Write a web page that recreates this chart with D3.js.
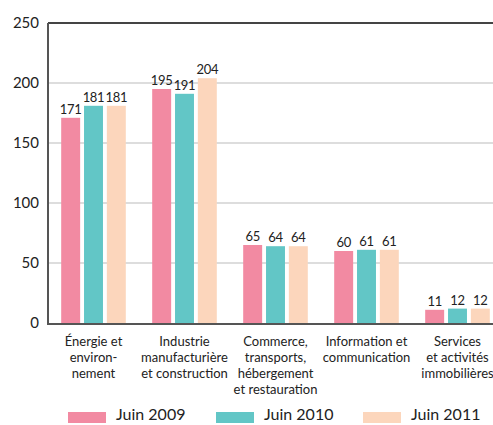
<!DOCTYPE html>
<html>
<head>
<meta charset="utf-8">
<script src="https://cdn.jsdelivr.net/npm/d3@7"></script>
<style>
  body { margin: 0; background: #fff; }
  svg text { font-family: Lato, "Open Sans", sans-serif; fill: #222; }
</style>
</head>
<body>
<div id="chart"></div>
<script>
var categories = [
  ["Énergie et", "environ-", "nement"],
  ["Industrie", "manufacturière", "et construction"],
  ["Commerce,", "transports,", "hébergement", "et restauration"],
  ["Information et", "communication"],
  ["Services", "et activités", "immobilières"]
];
var seriesNames = ["Juin 2009", "Juin 2010", "Juin 2011"];
var juin2009 = [171, 195, 65, 60, 11];
var juin2010 = [181, 191, 64, 61, 12];
var juin2011 = [181, 204, 64, 61, 12];
var yTicks = [0, 50, 100, 150, 200, 250];

var colors = ["#f28aa2", "#62c6c6", "#fcd6bc"];
var series = [juin2009, juin2010, juin2011];

var width = 493, height = 425;
var margin = { top: 23, left: 48, bottom: 100 };
var plotRight = 503;

var svg = d3.select("#chart").append("svg")
  .attr("width", width)
  .attr("height", height);

var x0 = d3.scaleBand()
  .domain(d3.range(categories.length))
  .range([margin.left, plotRight])
  .paddingInner(0.29)
  .paddingOuter(0.145);

var x1 = d3.scaleBand()
  .domain(d3.range(series.length))
  .range([0, x0.bandwidth()])
  .paddingInner(0.17);

var y = d3.scaleLinear()
  .domain([0, 250])
  .range([height - margin.bottom - 2, margin.top]);

// grid lines
svg.selectAll(".grid")
  .data(yTicks.filter(function (d) { return d > 0 && d < 250; }))
  .enter().append("line")
  .attr("x1", margin.left)
  .attr("x2", width)
  .attr("y1", function (d) { return y(d); })
  .attr("y2", function (d) { return y(d); })
  .attr("stroke", "#d2d2d2")
  .attr("stroke-width", 1.5);

// top frame line
svg.append("line")
  .attr("x1", margin.left).attr("x2", width)
  .attr("y1", y(250)).attr("y2", y(250))
  .attr("stroke", "#444").attr("stroke-width", 2);

// y tick labels
svg.selectAll(".ytick")
  .data(yTicks)
  .enter().append("text")
  .attr("x", 39)
  .attr("y", function (d) { return y(d) + 5; })
  .attr("text-anchor", "end")
  .style("font-size", "15px")
  .text(function (d) { return d; });

// bars
var groups = svg.selectAll(".group")
  .data(categories)
  .enter().append("g")
  .attr("transform", function (d, i) { return "translate(" + x0(i) + ",0)"; });

groups.each(function (c, i) {
  var g = d3.select(this);
  series.forEach(function (s, j) {
    g.append("rect")
      .attr("x", x1(j))
      .attr("y", y(s[i]))
      .attr("width", x1.bandwidth())
      .attr("height", y(0) - y(s[i]))
      .attr("fill", colors[j]);
    g.append("text")
      .attr("x", x1(j) + x1.bandwidth() / 2)
      .attr("y", y(s[i]) - 4)
      .attr("text-anchor", "middle")
      .style("font-size", "13px")
      .style("letter-spacing", "-0.3px")
      .text(s[i]);
  });
  var t = g.append("text")
    .attr("text-anchor", "middle")
    .style("font-size", "13px");
  c.forEach(function (line, k) {
    t.append("tspan")
      .attr("x", x0.bandwidth() / 2)
      .attr("y", 346 + k * 16)
      .text(line);
  });
});

// axes lines
svg.append("line")
  .attr("x1", margin.left).attr("x2", width)
  .attr("y1", y(0) + 1).attr("y2", y(0) + 1)
  .attr("stroke", "#555").attr("stroke-width", 2);
svg.append("line")
  .attr("x1", margin.left).attr("x2", margin.left)
  .attr("y1", y(250)).attr("y2", y(0) + 2)
  .attr("stroke", "#555").attr("stroke-width", 2);

// legend
var legendX = [68, 216, 363];
seriesNames.forEach(function (name, j) {
  svg.append("rect")
    .attr("x", legendX[j]).attr("y", 412)
    .attr("width", 38).attr("height", 11)
    .attr("fill", colors[j]);
  svg.append("text")
    .attr("x", legendX[j] + 48).attr("y", 420)
    .style("font-size", "16px")
    .text(name);
});
</script>
</body>
</html>
